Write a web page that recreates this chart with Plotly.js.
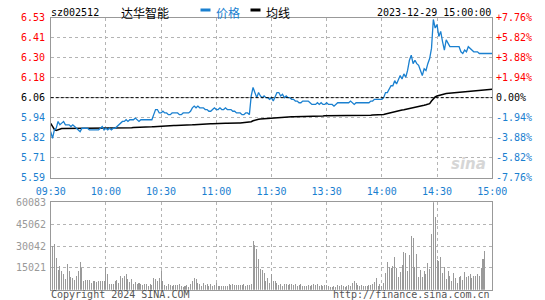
<!DOCTYPE html>
<html><head><meta charset="utf-8">
<script src="https://cdn.plot.ly/plotly-3.0.1.min.js"></script>
<style>html,body{margin:0;padding:0;background:#fff}#chart{width:545px;height:300px}</style>
</head><body><div id="chart"></div>
<script>
const stockCode = 'sz002512';
const stockName = '达华智能';
const stamp = '2023-12-29 15:00:00';
const legendNames = ['价格', '均线'];
const copyrightLeft = 'Copyright 2024 SINA.COM';
const copyrightRight = 'http://finance.sina.com.cn';
const prevClose = 6.06;
const priceMax = 6.53, priceMin = 5.59;
const priceTickLabels = ['6.53','6.41','6.30','6.18','6.06','5.94','5.82','5.71','5.59'];
const pctTickLabels = ['+7.76%','+5.82%','+3.88%','+1.94%','0.00%','-1.94%','-3.88%','-5.82%','-7.76%'];
const volMax = 60083;
const volTicks = [60083, 45062, 30042, 15021];
const volTickLabels = ['60083','45062','30042','15021'];
const timeTickIdx = [0,30,60,90,120,150,180,210,240];
const timeTickLabels = ['09:30','10:00','10:30','11:00','11:30','13:30','14:00','14:30','15:00'];

const price = [
5.86,5.82,5.87,5.88,5.92,5.90,5.91,5.92,5.90,5.90,
5.90,5.89,5.90,5.89,5.88,5.87,5.86,5.88,5.88,5.88,
5.88,5.87,5.87,5.87,5.87,5.87,5.87,5.88,5.89,5.87,
5.88,5.87,5.88,5.87,5.88,5.88,5.89,5.90,5.91,5.92,
5.92,5.93,5.92,5.93,5.93,5.93,5.94,5.93,5.92,5.93,
5.93,5.93,5.93,5.93,5.93,5.93,5.96,5.99,5.99,5.97,
5.97,5.98,5.97,5.97,5.96,5.96,5.97,5.97,5.97,5.97,
5.96,5.96,5.97,5.97,5.97,5.97,5.98,6.00,6.01,6.00,
6.01,6.00,6.00,6.00,5.99,5.99,5.98,5.98,5.99,6.00,
5.99,5.99,6.00,5.99,5.99,6.00,5.99,5.99,5.99,5.98,
5.98,5.97,5.97,5.97,5.96,5.96,5.97,5.97,5.96,6.07,
6.12,6.09,6.06,6.09,6.07,6.06,6.07,6.06,6.06,6.05,
6.06,6.04,6.07,6.09,6.09,6.07,6.08,6.06,6.07,6.06,
6.06,6.05,6.05,6.04,6.04,6.03,6.03,6.04,6.04,6.04,
6.04,6.03,6.02,6.02,6.02,6.03,6.02,6.03,6.02,6.02,
6.03,6.02,6.02,6.02,6.01,6.02,6.03,6.03,6.03,6.03,
6.03,6.03,6.03,6.04,6.03,6.02,6.03,6.03,6.03,6.03,
6.03,6.03,6.03,6.03,6.04,6.04,6.05,6.05,6.05,6.05,
6.05,6.06,6.09,6.09,6.11,6.13,6.13,6.16,6.14,6.17,
6.19,6.17,6.20,6.18,6.22,6.28,6.31,6.26,6.28,6.26,
6.25,6.22,6.19,6.23,6.22,6.26,6.29,6.35,6.52,6.47,
6.49,6.42,6.45,6.39,6.34,6.40,6.38,6.36,6.36,6.36,
6.36,6.36,6.36,6.33,6.32,6.34,6.33,6.36,6.35,6.34,
6.33,6.33,6.33,6.32,6.32,6.32,6.32,6.32,6.32,6.32,
6.32
];

const avgPrice = [
5.909,5.891,5.873,5.867,5.872,5.876,5.878,5.879,5.879,5.879,
5.879,5.879,5.879,5.879,5.879,5.879,5.879,5.879,5.879,5.879,
5.879,5.879,5.879,5.879,5.879,5.879,5.879,5.879,5.879,5.879,
5.879,5.879,5.879,5.879,5.879,5.879,5.880,5.880,5.880,5.881,
5.881,5.882,5.882,5.883,5.883,5.884,5.884,5.885,5.885,5.885,
5.886,5.886,5.886,5.887,5.887,5.888,5.889,5.890,5.891,5.892,
5.892,5.893,5.893,5.894,5.894,5.895,5.895,5.896,5.896,5.896,
5.897,5.897,5.897,5.898,5.898,5.899,5.899,5.900,5.901,5.902,
5.903,5.903,5.904,5.904,5.905,5.905,5.906,5.906,5.906,5.907,
5.907,5.907,5.908,5.908,5.909,5.909,5.909,5.910,5.910,5.910,
5.911,5.911,5.911,5.911,5.912,5.912,5.912,5.912,5.913,5.918,
5.924,5.928,5.931,5.933,5.935,5.936,5.937,5.938,5.939,5.940,
5.940,5.941,5.942,5.943,5.944,5.945,5.945,5.946,5.946,5.947,
5.947,5.948,5.948,5.948,5.949,5.949,5.949,5.950,5.950,5.950,
5.951,5.951,5.951,5.951,5.952,5.952,5.952,5.952,5.952,5.953,
5.953,5.953,5.953,5.953,5.954,5.954,5.954,5.954,5.954,5.955,
5.955,5.955,5.955,5.955,5.956,5.956,5.956,5.956,5.956,5.956,
5.957,5.957,5.957,5.957,5.957,5.958,5.958,5.958,5.958,5.959,
5.959,5.961,5.964,5.967,5.970,5.973,5.976,5.978,5.981,5.983,
5.985,5.987,5.989,5.991,5.993,5.996,5.999,6.002,6.004,6.006,
6.008,6.010,6.012,6.015,6.018,6.021,6.025,6.040,6.055,6.064,
6.070,6.074,6.077,6.080,6.082,6.084,6.085,6.086,6.087,6.088,
6.089,6.090,6.091,6.092,6.093,6.094,6.095,6.096,6.097,6.098,
6.099,6.100,6.101,6.102,6.103,6.104,6.105,6.106,6.107,6.108,
6.109
];

const volume = [
56700,30000,31700,21700,13800,16400,12600,10500,7400,17400,
12900,9000,8100,6700,9800,12900,18800,15200,6200,6700,
6700,6700,5000,5700,5700,5200,5700,6200,6200,6200,
15700,11000,4300,4300,4300,6200,6700,5000,9500,8100,
9500,10500,7400,5500,7100,3800,5500,3800,4800,3800,
3300,3800,3800,2900,4300,3300,8100,7400,6200,8100,
12900,6200,3300,2600,4300,3100,2600,3300,3100,3300,
3800,2600,1900,2400,3100,1900,4300,6200,8100,7100,
4800,3800,2600,4800,3300,3800,2600,4300,2600,3100,
4800,2600,2400,2400,2400,2900,2900,3800,3300,3800,
3100,3300,3300,3300,3300,4300,2600,3100,3100,4300,
33600,30500,28100,21000,14500,13800,11400,6200,8100,5000,
10500,5700,5700,5000,3100,4300,2600,3800,4300,3100,
4300,3800,3100,4300,2600,3300,3800,2600,2600,2600,
3100,2600,3100,4300,3300,3800,2600,3100,2600,3100,
3100,2600,1900,1900,2400,1900,3100,2600,3100,2600,
1900,2400,3100,2600,4800,5700,4800,3300,2600,3100,
2600,2600,2600,3100,3300,3800,5500,8100,2600,3800,
2600,4800,11400,18800,15700,15200,16200,22400,15200,8600,
12200,16900,25700,25300,12900,23600,36700,35300,15700,24800,
9000,13800,9000,12900,10500,18600,14500,38400,60083,49600,
20500,20000,22400,11400,15700,7400,12900,9800,6200,11400,
8100,4800,8600,9800,6700,12200,8600,9500,10500,8100,
9800,9800,10500,9500,15200,21000,26500,0,0,0,
0
];

const W = 545, H = 300;
const px = v => v / W, py = v => 1 - v / H;
const MONO = 'DejaVu Sans Mono, monospace';
const CJK = 'Noto Sans CJK SC, sans-serif';
const BLUE = '#1a80d0', RED = '#ff0000', GRAY = '#999999', GRID = '#b4b4b4';

const idx = price.map((_, i) => i);
const priceTicks = priceTickLabels.map((_, k) => priceMax - k * (priceMax - priceMin) / (priceTickLabels.length - 1));
const xDom = [px(50.7), px(492.2)];

const traces = [
  {x: idx, y: avgPrice, type: 'scatter', mode: 'lines', line: {color: '#000', width: 1.5}, xaxis: 'x', yaxis: 'y', hoverinfo: 'skip'},
  {x: idx, y: price, type: 'scatter', mode: 'lines', line: {color: BLUE, width: 1.3}, xaxis: 'x', yaxis: 'y', hoverinfo: 'skip'},
  {x: idx, y: volume, type: 'bar', width: 0.55, marker: {color: '#9a9a9a', line: {width: 0}}, xaxis: 'x2', yaxis: 'y2', hoverinfo: 'skip'}
];

const colorFor = v => Math.abs(v - prevClose) < 1e-6 ? '#000' : (v > prevClose ? RED : BLUE);
const annotations = [];
priceTicks.forEach((v, k) => {
  annotations.push({xref: 'paper', yref: 'y', x: px(46), y: v, xanchor: 'right', yanchor: 'middle', showarrow: false,
    text: priceTickLabels[k], font: {family: MONO, size: 10, color: colorFor(v)}, borderpad: 0});
  annotations.push({xref: 'paper', yref: 'y', x: px(494.5), y: v, xanchor: 'left', yanchor: 'middle', showarrow: false,
    text: pctTickLabels[k], font: {family: MONO, size: 10, color: colorFor(v)}, borderpad: 0});
});
volTicks.forEach((v, k) => {
  annotations.push({xref: 'paper', yref: 'y2', x: px(46.5), y: v, xanchor: 'right', yanchor: 'middle', showarrow: false,
    text: volTickLabels[k], font: {family: MONO, size: 10, color: GRAY}, borderpad: 0});
});
const hdrY = py(12);
annotations.push({xref: 'paper', yref: 'paper', x: px(50), y: hdrY, xanchor: 'left', yanchor: 'middle', showarrow: false, text: stockCode, font: {family: MONO, size: 10, color: '#000'}, borderpad: 0});
annotations.push({xref: 'paper', yref: 'paper', x: px(120), y: hdrY, xanchor: 'left', yanchor: 'middle', showarrow: false, text: stockName, font: {family: CJK, size: 12, color: '#000'}, borderpad: 0});
annotations.push({xref: 'paper', yref: 'paper', x: px(215), y: hdrY, xanchor: 'left', yanchor: 'middle', showarrow: false, text: legendNames[0], font: {family: CJK, size: 12, color: BLUE}, borderpad: 0});
annotations.push({xref: 'paper', yref: 'paper', x: px(265), y: hdrY, xanchor: 'left', yanchor: 'middle', showarrow: false, text: legendNames[1], font: {family: CJK, size: 12, color: '#000'}, borderpad: 0});
annotations.push({xref: 'paper', yref: 'paper', x: px(491.5), y: hdrY, xanchor: 'right', yanchor: 'middle', showarrow: false, text: stamp, font: {family: MONO, size: 10, color: '#000'}, borderpad: 0});
annotations.push({xref: 'paper', yref: 'paper', x: px(50), y: py(294), xanchor: 'left', yanchor: 'middle', showarrow: false, text: copyrightLeft, font: {family: MONO, size: 10, color: '#555'}, borderpad: 0});
annotations.push({xref: 'paper', yref: 'paper', x: px(491), y: py(294), xanchor: 'right', yanchor: 'middle', showarrow: false, text: copyrightRight, font: {family: MONO, size: 10, color: '#555'}, borderpad: 0});
annotations.push({xref: 'paper', yref: 'paper', x: px(468), y: py(164), xanchor: 'center', yanchor: 'middle', showarrow: false, text: 'sina', font: {family: 'DejaVu Sans, sans-serif', size: 15, color: '#d6d6d6', style: 'italic', weight: 'bold'}, borderpad: 0});

const shapes = [
  {type: 'line', xref: 'x domain', yref: 'y', x0: 0, x1: 1, y0: prevClose, y1: prevClose, line: {color: '#000', width: 1, dash: '3px,2px'}},
  {type: 'rect', xref: 'paper', yref: 'paper', x0: px(200.5), x1: px(210.5), y0: py(8.5), y1: py(11.5), fillcolor: BLUE, line: {width: 0}},
  {type: 'rect', xref: 'paper', yref: 'paper', x0: px(250.5), x1: px(260.5), y0: py(8.5), y1: py(11.5), fillcolor: '#000', line: {width: 0}}
];

const axBase = {showgrid: true, gridcolor: GRID, griddash: 'dot', gridwidth: 1, showline: true, mirror: true,
  linecolor: GRAY, linewidth: 1, zeroline: false, ticks: '', fixedrange: true};

const layout = {
  width: W, height: H, autosize: false,
  margin: {l: 0, r: 0, t: 0, b: 0, pad: 0},
  paper_bgcolor: '#fff', plot_bgcolor: '#fff',
  showlegend: false, bargap: 0,
  xaxis: Object.assign({}, axBase, {domain: xDom, range: [0, 240], anchor: 'y', tickmode: 'array', tickvals: timeTickIdx, ticktext: timeTickLabels,
    tickfont: {family: MONO, size: 10, color: BLUE}, ticklabelstandoff: 4}),
  yaxis: Object.assign({}, axBase, {domain: [py(177.5), py(17.8)], range: [priceMin, priceMax], anchor: 'x', tickmode: 'array', tickvals: priceTicks, showticklabels: false}),
  xaxis2: Object.assign({}, axBase, {domain: xDom, range: [0, 240], anchor: 'y2', tickmode: 'array', tickvals: timeTickIdx, showticklabels: false}),
  yaxis2: Object.assign({}, axBase, {domain: [py(289.8), py(202.2)], range: [0, volMax], anchor: 'x2', tickmode: 'array', tickvals: volTicks, showticklabels: false}),
  annotations: annotations, shapes: shapes
};

Plotly.newPlot('chart', traces, layout, {staticPlot: true, displayModeBar: false});
</script></body></html>
